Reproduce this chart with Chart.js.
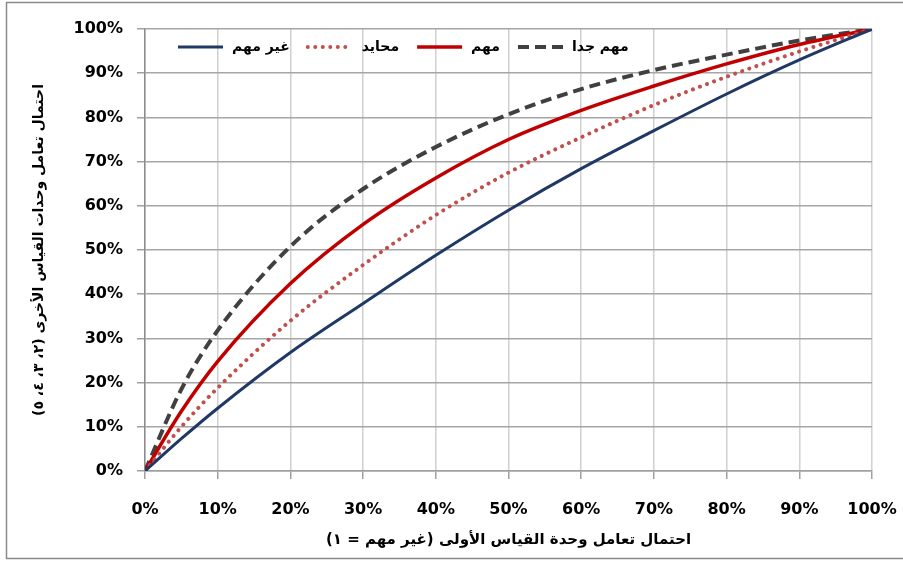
<!DOCTYPE html>
<html>
<head>
<meta charset="utf-8">
<title>احتمال التعامل</title>
<script src="https://cdn.jsdelivr.net/npm/chart.js"></script>
<style>
    html, body { margin: 0; padding: 0; background: #fff; }
    #wrap { width: 903px; height: 563px; position: relative; }
    canvas { direction: rtl; }
</style>
</head>
<body>
<div id="wrap"><canvas id="chart" width="903" height="563"></canvas></div>
<script>
// probability of the first unit (%), x axis
const xValues = [0, 5, 10, 20, 30, 40, 50, 60, 70, 80, 90, 100];
// probability of the other units (%), one array per curve
const notImportant  = [0, 7.3, 14.2, 26.8, 37.9, 48.8, 59.0, 68.4, 77.0, 85.3, 93.0, 100];
const neutral       = [0, 10.0, 18.8, 34.0, 46.6, 57.9, 67.5, 75.5, 82.8, 89.2, 94.9, 100];
const important     = [0, 13.5, 24.8, 42.4, 55.8, 66.3, 75.0, 81.6, 87.1, 92.1, 96.5, 100];
const veryImportant = [0, 18.5, 31.8, 50.8, 63.8, 73.3, 80.7, 86.4, 90.7, 94.2, 97.4, 100];

const seriesNames = ['غير مهم', 'محايد', 'مهم', 'مهم جدا'];
const tickLabels = ['0%', '10%', '20%', '30%', '40%', '50%', '60%', '70%', '80%', '90%', '100%'];
const xTitle = 'احتمال تعامل وحدة القياس الأولى (غير مهم = ١)';
const yTitle = 'احتمال تعامل وحدات القياس الأخرى (٢، ٣، ٤، ٥)';

const toPoints = ys => ys.map((y, i) => ({ x: xValues[i], y }));
const tickFont = { family: 'DejaVu Sans', size: 16, weight: 'bold' };

// outer frame of the picture (open on the right side)
const framePlugin = {
    id: 'frame',
    beforeDraw(chart) {
        const ctx = chart.ctx;
        ctx.save();
        ctx.strokeStyle = '#8a8a8a';
        ctx.lineWidth = 1.5;
        ctx.strokeRect(6.5, 2.5, 1000, 556);
        ctx.restore();
    }
};

// one-row legend inside the plot, drawn from the datasets
const inlineLegend = {
    id: 'inlineLegend',
    afterDraw(chart) {
        const ctx = chart.ctx;
        const y = chart.chartArea.top + 18;
        let x = chart.chartArea.left + 33;
        ctx.save();
        ctx.font = 'bold 14px "DejaVu Sans"';
        ctx.textAlign = 'left';
        ctx.textBaseline = 'middle';
        chart.data.datasets.forEach(ds => {
            ctx.beginPath();
            ctx.strokeStyle = ds.borderColor;
            ctx.lineWidth = ds.borderWidth;
            ctx.lineCap = ds.borderCapStyle || 'butt';
            ctx.setLineDash(ds.borderDash || []);
            ctx.moveTo(x, y);
            ctx.lineTo(x + 45, y);
            ctx.stroke();
            ctx.setLineDash([]);
            ctx.fillStyle = '#000';
            ctx.fillText(ds.label, x + 54, y);
            x += 54 + ctx.measureText(ds.label).width + 18;
        });
        ctx.restore();
    }
};

new Chart(document.getElementById('chart').getContext('2d'), {
    type: 'line',
    data: {
        datasets: [
            { label: seriesNames[0], data: toPoints(notImportant), borderColor: '#1f3864', borderWidth: 3 },
            { label: seriesNames[1], data: toPoints(neutral), borderColor: '#c0504d', borderWidth: 4, borderDash: [0.01, 7.5], borderCapStyle: 'round' },
            { label: seriesNames[2], data: toPoints(important), borderColor: '#c00000', borderWidth: 3.5 },
            { label: seriesNames[3], data: toPoints(veryImportant), borderColor: '#404040', borderWidth: 4, borderDash: [11, 6] }
        ]
    },
    options: {
        responsive: false,
        animation: false,
        cubicInterpolationMode: 'monotone',
        elements: { point: { radius: 0, hoverRadius: 0 }, line: { fill: false } },
        layout: { padding: { top: 29, right: 31, left: 0, bottom: 0 } },
        plugins: {
            legend: { display: false },
            tooltip: { enabled: false }
        },
        scales: {
            x: {
                type: 'linear',
                min: 0,
                max: 100,
                afterFit: s => { s.height = 92; s.paddingLeft = 0; s.paddingRight = 0; },
                ticks: {
                    stepSize: 10,
                    autoSkip: false,
                    maxRotation: 0,
                    padding: 21,
                    color: '#000',
                    font: tickFont,
                    callback: (v, i) => tickLabels[i]
                },
                grid: { color: '#d0d0d0', lineWidth: 1.5, tickColor: '#a0a0a0', tickLength: 8 },
                border: { color: '#a0a0a0', width: 1.5 },
                title: { display: true, text: xTitle, color: '#000', font: { family: 'DejaVu Sans', size: 15, weight: 'bold' }, padding: { top: 0, bottom: 14 } }
            },
            y: {
                min: 0,
                max: 100,
                afterFit: s => { s.width = 145; },
                ticks: {
                    stepSize: 10,
                    padding: 14,
                    color: '#000',
                    font: tickFont,
                    callback: (v, i) => tickLabels[i]
                },
                grid: { color: '#a6a6a6', lineWidth: 1.5, tickColor: '#a0a0a0', tickLength: 8 },
                border: { color: '#8c8c8c', width: 1.5 },
                title: { display: true, text: yTitle, color: '#000', font: { family: 'DejaVu Sans', size: 14, weight: 'bold' }, padding: { top: 31, bottom: 0 } }
            }
        }
    },
    plugins: [framePlugin, inlineLegend]
});
</script>
</body>
</html>
